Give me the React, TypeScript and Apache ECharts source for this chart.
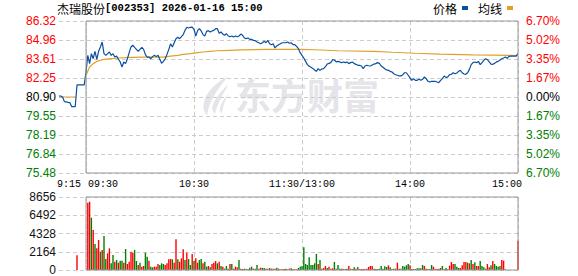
import React, { useEffect, useRef } from "react";
import * as echarts from "echarts";

// ---------- data ----------
const PREV_CLOSE = 80.9;
const LIMIT_PCT = 6.7;
const VOL_MAX = 8656;
const VOL_STEP = 2164;

const stockName = "杰瑞股份";
const stockInfo = "[002353] 2026-01-16 15:00";

const priceTicks = ["75.48", "76.84", "78.19", "79.55", "80.90", "82.25", "83.61", "84.96", "86.32"];
const pctTicks = ["6.70%", "5.02%", "3.35%", "1.67%", "0.00%", "1.67%", "3.35%", "5.02%", "6.70%"];
const timeLabels: Record<number, string> = { 0: "09:30", 60: "10:30", 120: "11:30/13:00", 180: "14:00", 240: "15:00" };
const preLabel = "9:15";

// minutes -15..-1 (9:15 - 9:29)
const prePrices = [80.97, 80.97, 80.9, 80.57, 80.55, 80.52, 80.5, 80.22, 80.21, 80.21, 81.76, 81.76, 81.76, 81.76, 81.76];
// minutes 0..120 (9:30 - 11:30)
const amPrices = [
  82.68, 83.87, 83.28, 83.99, 83.63, 84.16, 83.59, 84.16, 84.47, 84.82,
  83.99, 83.87, 83.99, 84.11, 83.87, 83.99, 83.75, 83.82, 83.59, 83.4,
  83.04, 83.4, 83.28, 83.63, 84.06, 84.47, 84.59, 84.44, 84.3, 84.16,
  84.3, 84.44, 84.3, 83.92, 83.75, 83.75, 83.63, 83.78, 83.87, 83.78,
  83.87, 83.59, 83.3, 83.44, 83.63, 83.94, 84.3, 84.7, 84.47, 84.77,
  85.06, 85.16, 85.06, 85.2, 85.35, 85.65, 85.87, 85.82, 85.87, 85.89,
  85.73, 85.25, 85.63, 85.77, 85.61, 85.35, 85.25, 85.58, 85.63, 85.54,
  85.61, 85.65, 85.77, 85.77, 85.44, 85.54, 85.39, 85.3, 85.42, 85.25,
  85.2, 85.25, 85.18, 85.25, 85.2, 85.25, 85.39, 85.3, 85.11, 85.06,
  85.11, 85.01, 85.01, 84.94, 84.92, 84.82, 84.77, 84.7, 84.77, 84.87,
  84.77, 84.94, 84.7, 84.63, 84.7, 84.4, 84.54, 84.63, 84.7, 84.77,
  84.77, 84.77, 84.82, 84.73, 84.77, 84.63, 84.63, 84.51, 84.35, 84.06,
  83.87,
];
// minutes 121..240 (13:01 - 15:00)
const pmPrices = [
  83.68, 83.44, 83.21, 83.09, 83.02, 82.94, 82.83, 82.73, 82.92, 82.8,
  82.9, 82.92, 83.06, 83.25, 83.3, 83.35, 83.56, 83.54, 83.4, 83.44,
  83.4, 83.35, 83.4, 83.35, 83.4, 83.28, 83.35, 83.4, 83.28, 83.23,
  83.16, 83.16, 83.11, 82.92, 83.11, 83.16, 83.13, 83.11, 83.18, 83.25,
  83.28, 83.35, 83.3, 83.11, 83.02, 82.92, 82.83, 82.8, 82.73, 82.68,
  82.56, 82.49, 82.45, 82.4, 82.4, 82.49, 82.63, 82.63, 82.45, 82.26,
  82.09, 82.21, 82.09, 82.09, 82.16, 82.09, 82.16, 82.33, 82.21, 82.02,
  81.97, 82.02, 82.02, 82.02, 81.97, 81.92, 82.09, 82.21, 82.4, 82.3,
  82.33, 82.49, 82.52, 82.63, 82.56, 82.61, 82.73, 82.8, 82.63, 82.54,
  82.52, 82.63, 82.87, 83.21, 83.35, 83.4, 83.35, 83.44, 83.21, 83.35,
  83.52, 83.63, 83.56, 83.4, 83.25, 83.23, 83.3, 83.4, 83.44, 83.54,
  83.63, 83.68, 83.75, 83.66, 83.8, 83.82, 83.82, 83.82, 83.82, 84.01,
];

const preAvgMinutes = [-15, -6];
const preAvgValues = [80.9, 80.9];
const avgMinutes = [0, 2, 4, 6, 10, 14, 18, 25, 32, 43, 47, 51, 54, 58, 62, 65, 69, 73, 80, 86, 100, 119, 127, 140, 160, 170, 183, 197, 215, 240];
const avgValues = [82.45, 83.04, 83.28, 83.44, 83.59, 83.63, 83.68, 83.73, 83.75, 83.75, 83.82, 83.87, 83.94, 83.99, 84.06, 84.11, 84.16, 84.2, 84.23, 84.26, 84.29, 84.3, 84.27, 84.2, 84.16, 84.09, 84.02, 83.96, 83.9, 83.86];

const auctionMinute = -5;
const auctionVolume = 1750;

const amVolumes = [
  0, 7979, 8098, 6200, 4740, 3081, 2568, 3555, 2172, 2370,
  4029, 1300, 1975, 2568, 790, 1778, 988, 1185, 869, 1106,
  1106, 869, 2489, 711, 988, 2172, 2054, 2370, 1067, 593,
  869, 395, 474, 2054, 1580, 1106, 395, 316, 395, 395,
  711, 593, 790, 711, 593, 790, 1264, 1300, 1264, 869,
  3634, 1264, 988, 1383, 2449, 1185, 2054, 1300, 593, 1896,
  1067, 1383, 869, 1185, 1300, 790, 988, 395, 474, 316,
  711, 869, 1067, 790, 988, 474, 395, 158, 474, 158,
  711, 711, 158, 395, 316, 1185, 158, 120, 158, 120,
  120, 280, 395, 158, 158, 593, 158, 280, 237, 237,
  158, 158, 237, 158, 158, 158, 280, 158, 80, 120,
  120, 158, 80, 158, 198, 80, 80, 80, 237, 395,
  474,
];
const amUp = [
  1, 1, 1, 0, 1, 0, 1, 1, 0, 1,
  0, 0, 1, 1, 0, 0, 1, 0, 1, 0,
  0, 1, 0, 1, 1, 1, 1, 0, 0, 1,
  0, 1, 1, 0, 0, 1, 0, 0, 1, 1,
  1, 0, 0, 0, 1, 1, 1, 1, 0, 1,
  1, 0, 1, 1, 1, 0, 1, 0, 0, 1,
  0, 1, 1, 0, 0, 1, 0, 0, 1, 0,
  1, 1, 1, 0, 1, 0, 1, 0, 0, 0,
  1, 0, 0, 1, 1, 0, 1, 1, 0, 1,
  0, 0, 0, 1, 0, 0, 1, 1, 0, 0,
  1, 1, 0, 1, 1, 0, 0, 1, 1, 1,
  1, 0, 1, 1, 0, 1, 1, 1, 0, 0,
  0,
];
const pmVolumes = [
  2686, 711, 593, 1501, 593, 593, 790, 1896, 711, 1185,
  158, 237, 474, 237, 395, 158, 200, 948, 158, 593,
  158, 158, 120, 120, 158, 474, 158, 120, 316, 158,
  355, 120, 120, 120, 120, 158, 355, 474, 474, 158,
  120, 120, 158, 474, 158, 435, 355, 553, 316, 120,
  158, 158, 869, 158, 158, 474, 395, 553, 711, 553,
  120, 120, 120, 198, 198, 198, 593, 474, 158, 120,
  120, 593, 395, 158, 120, 158, 237, 474, 80, 237,
  80, 514, 948, 711, 711, 395, 237, 237, 553, 948,
  948, 869, 790, 1185, 711, 909, 474, 474, 1067, 474,
  316, 158, 711, 316, 553, 1067, 711, 474, 395, 474,
  1185, 1106, 80, 0, 0, 0, 0, 0, 0, 3476,
];
const pmUp = [
  0, 0, 0, 0, 0, 0, 0, 0, 1, 0,
  1, 1, 1, 0, 1, 1, 1, 0, 1, 0,
  0, 0, 1, 0, 1, 1, 0, 1, 0, 1,
  0, 1, 1, 1, 1, 1, 1, 1, 1, 0,
  0, 0, 0, 0, 0, 0, 0, 1, 0, 1,
  0, 0, 1, 1, 0, 0, 0, 0, 0, 1,
  0, 0, 1, 0, 0, 0, 0, 1, 1, 0,
  0, 0, 1, 1, 1, 0, 1, 0, 1, 0,
  0, 1, 1, 1, 0, 0, 0, 1, 1, 1,
  1, 0, 1, 0, 1, 0, 1, 1, 0, 0,
  0, 0, 1, 1, 0, 1, 0, 0, 0, 0,
  1, 1, 1, 1, 1, 1, 1, 1, 1, 1,
];

// ---------- styles ----------
const BLUE = "#0b4fa0";
const ORANGE = "#dea22b";
const RED = "#ff0000";
const GREEN = "#008000";
const GRID_LINE = "#cccccc";
const BORDER = "#999999";
const NUM_FONT = "Liberation Sans";
const MONO_FONT = "Liberation Mono";
const CJK_FONT = "Noto Sans CJK SC";
const TIME_SIZE = 10;

const LOGO_D =
  "M32 0 C20 6 8 16 6 28 C5 34 7 38 10 40 C10 32 16 18 32 0 Z " +
  "M32 9 C24 15 17 24 15 32 C15 35 16 37 18 39 C19 32 24 22 32 9 Z " +
  "M32 18 C27 23 24 29 23 34 C23 36 24 37 25 38 C26 32 28 25 32 18 Z";

let logoRegistered = false;
function registerLogo() {
  if (logoRegistered) return;
  echarts.graphic.registerShape("emLogo", echarts.graphic.extendPath(LOGO_D, {}));
  logoRegistered = true;
}

const toPct = (p: number) => (p / PREV_CLOSE - 1) * 100;
const tickIndex = (v: number) => Math.round((v + LIMIT_PCT) / (LIMIT_PCT / 4));
const dashed = { show: true, lineStyle: { color: GRID_LINE, type: [4, 3] as any, width: 1 } };

function buildOption() {
  const priceData: [number, number][] = [];
  prePrices.forEach((p, i) => priceData.push([i - prePrices.length, toPct(p)]));
  amPrices.forEach((p, i) => priceData.push([i, toPct(p)]));
  pmPrices.forEach((p, i) => priceData.push([amPrices.length + i, toPct(p)]));

  const preAvg = preAvgMinutes.map((m, i) => [m, toPct(preAvgValues[i])]);
  const avg = avgMinutes.map((m, i) => [m, toPct(avgValues[i])]);

  const volData: any[] = [
    { value: [auctionMinute, auctionVolume], itemStyle: { color: RED } },
  ];
  amVolumes.forEach((v, i) => volData.push({ value: [i, v], itemStyle: { color: amUp[i] ? RED : GREEN } }));
  pmVolumes.forEach((v, i) =>
    volData.push({ value: [amVolumes.length + i, v], itemStyle: { color: pmUp[i] ? RED : GREEN } })
  );

  const colorRich = {
    up: { color: RED, fontSize: 12, fontFamily: NUM_FONT },
    dn: { color: GREEN, fontSize: 12, fontFamily: NUM_FONT },
    eq: { color: "#000", fontSize: 12, fontFamily: NUM_FONT },
  };
  const key = (i: number) => (i > 4 ? "up" : i < 4 ? "dn" : "eq");
  const timeStyle = { fontFamily: MONO_FONT, fontSize: TIME_SIZE, color: "#000" };

  return {
    animation: false,
    backgroundColor: "#ffffff",
    title: {
      text: `{a|${stockName}}{b|${stockInfo}}`,
      left: 57,
      top: 2,
      padding: 0,
      textStyle: {
        rich: {
          a: { fontFamily: CJK_FONT, fontSize: 12, color: "#000", fontWeight: "normal" },
          b: { fontFamily: MONO_FONT, fontSize: 10.5, color: "#000" },
        },
      },
    },
    legend: {
      data: ["价格", "均线"],
      right: 65,
      top: 2,
      padding: 0,
      align: "right",
      icon: "rect",
      itemWidth: 6,
      itemHeight: 4,
      itemGap: 10,
      textStyle: { fontFamily: CJK_FONT, fontSize: 12, color: "#000", padding: [0, 0, 0, 0] },
    },
    grid: [
      { left: 59, right: 60, top: 21, height: 152, show: false },
      { left: 86, right: 60, top: 21, height: 152, show: true, borderColor: BORDER, borderWidth: 1, backgroundColor: "transparent", z: 5 },
      { left: 59, right: 60, top: 197, height: 73, show: false },
      { left: 86, right: 60, top: 197, height: 73, show: true, borderColor: BORDER, borderWidth: 1, backgroundColor: "transparent", z: 5 },
    ],
    xAxis: [
      {
        gridIndex: 0, type: "value", min: -15, max: 240, interval: 15,
        axisLine: { show: false }, axisTick: { show: false }, splitLine: { show: false },
        axisLabel: {
          show: true, margin: 6, showMaxLabel: false,
          rich: { s: { ...timeStyle, padding: [0, 0, 0, 20] } },
          formatter: (v: number) => (v === -15 ? `{s|${preLabel}}` : ""),
        },
      },
      {
        gridIndex: 1, type: "value", min: 0, max: 240, interval: 60,
        axisLine: { show: false }, axisTick: { show: false }, splitLine: dashed,
        axisLabel: {
          show: true, margin: 6,
          rich: {
            c: { ...timeStyle },
            l: { ...timeStyle, padding: [0, 0, 0, 34] },
            r: { ...timeStyle, padding: [0, 22, 0, 0] },
          },
          formatter: (v: number) => {
            const m = Math.round(v);
            const t = timeLabels[m] ?? "";
            if (!t) return "";
            const k = m === 0 ? "l" : m === 240 ? "r" : "c";
            return `{${k}|${t}}`;
          },
        },
      },
      {
        gridIndex: 2, type: "value", min: -15, max: 240, interval: 15,
        axisLine: { show: false }, axisTick: { show: false }, splitLine: { show: false }, axisLabel: { show: false },
      },
      {
        gridIndex: 3, type: "value", min: 0, max: 240, interval: 60,
        axisLine: { show: false }, axisTick: { show: false }, splitLine: dashed, axisLabel: { show: false },
      },
    ],
    yAxis: [
      {
        gridIndex: 0, type: "value", min: -LIMIT_PCT, max: LIMIT_PCT, interval: LIMIT_PCT / 4,
        position: "left",
        axisLine: { show: true, lineStyle: { color: GRID_LINE, type: [4, 3] as any } },
        axisTick: { show: false }, splitLine: dashed,
        axisLabel: {
          margin: 3, rich: colorRich,
          formatter: (v: number) => {
            const i = tickIndex(v);
            return `{${key(i)}|${priceTicks[i] ?? ""}}`;
          },
        },
      },
      {
        gridIndex: 1, type: "value", min: -LIMIT_PCT, max: LIMIT_PCT, interval: LIMIT_PCT / 4,
        position: "right",
        axisLine: { show: false }, axisTick: { show: false }, splitLine: { show: false },
        axisLabel: {
          margin: 8, rich: colorRich,
          formatter: (v: number) => {
            const i = tickIndex(v);
            return `{${key(i)}|${pctTicks[i] ?? ""}}`;
          },
        },
      },
      {
        gridIndex: 2, type: "value", min: 0, max: VOL_MAX, interval: VOL_STEP,
        position: "left",
        axisLine: { show: true, lineStyle: { color: GRID_LINE, type: [4, 3] as any } },
        axisTick: { show: false }, splitLine: dashed,
        axisLabel: {
          margin: 3, fontFamily: NUM_FONT, fontSize: 12, color: "#111",
          formatter: (v: number) => String(Math.round(v)),
        },
      },
      {
        gridIndex: 3, type: "value", min: 0, max: VOL_MAX, interval: VOL_STEP,
        axisLine: { show: false }, axisTick: { show: false }, splitLine: { show: false }, axisLabel: { show: false },
      },
    ],
    graphic: [
      {
        type: "emLogo", x: 198, y: 76, scaleX: 0.95, scaleY: 0.98, z: 0, silent: true,
        style: { fill: "#e4e4e9" },
      },
      {
        type: "text", left: 235, top: 76, z: 0, silent: true,
        style: { text: "东方财富", font: `bold 36px "${CJK_FONT}"`, fill: "#e4e4e9" },
      },
    ],
    series: [
      {
        name: "价格", type: "line", xAxisIndex: 0, yAxisIndex: 0, data: priceData,
        showSymbol: false, symbol: "none", color: BLUE, lineStyle: { width: 1.2, color: BLUE }, z: 4,
      },
      {
        name: "均线", type: "line", xAxisIndex: 0, yAxisIndex: 0, data: preAvg,
        showSymbol: false, symbol: "none", color: ORANGE, lineStyle: { width: 1.2, color: ORANGE }, z: 3,
      },
      {
        name: "均线", type: "line", xAxisIndex: 0, yAxisIndex: 0, data: avg,
        showSymbol: false, symbol: "none", color: ORANGE, lineStyle: { width: 1.2, color: ORANGE }, z: 3,
      },
      {
        name: "成交量", type: "bar", xAxisIndex: 2, yAxisIndex: 2, data: volData,
        barWidth: 1.4, z: 3,
      },
    ],
  };
}

export default function App() {
  const ref = useRef<HTMLDivElement>(null);
  useEffect(() => {
    if (!ref.current) return;
    registerLogo();
    const chart = echarts.init(ref.current, undefined, { renderer: "svg" });
    chart.setOption(buildOption() as any);
    return () => chart.dispose();
  }, []);
  return (
    <div
      ref={ref}
      style={{ position: "fixed", left: 0, top: 0, width: 578, height: 276, background: "#fff" }}
    />
  );
}
